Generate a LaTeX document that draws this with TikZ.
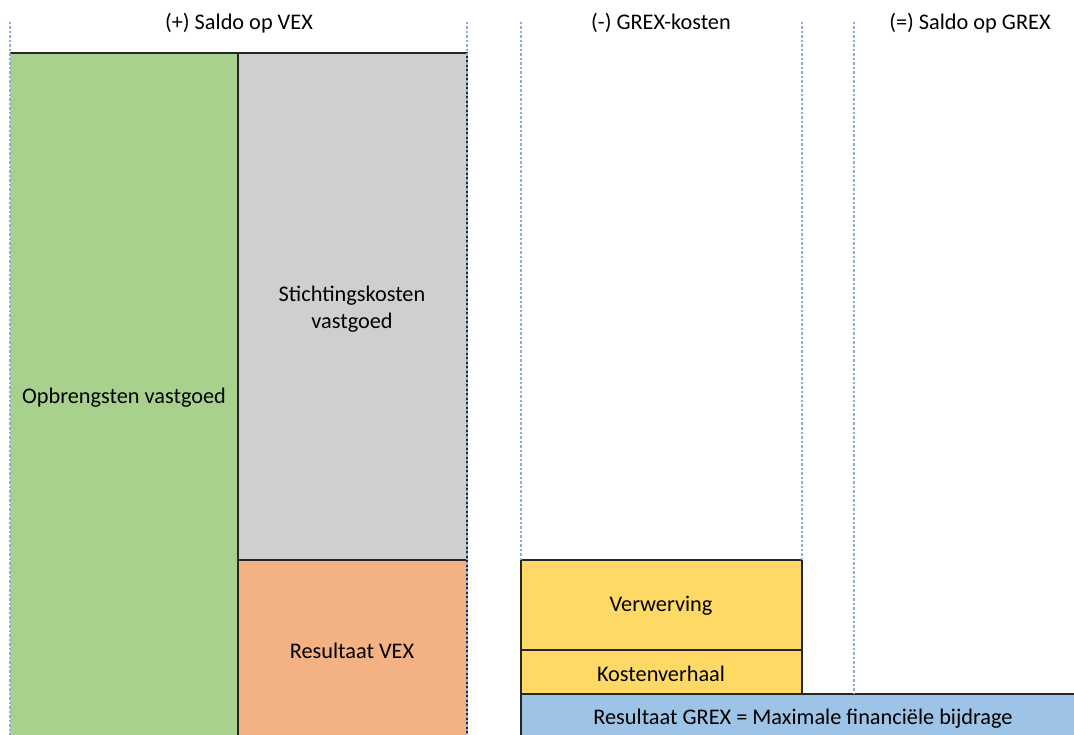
\documentclass[tikz,border=0pt]{standalone}
\usepackage{fontspec}
\setmainfont{Carlito}
\definecolor{cgreen}{HTML}{A9D18E}
\definecolor{cgrey}{HTML}{D0CECE}
\definecolor{corange}{HTML}{F4B183}
\definecolor{cyellow}{HTML}{FFD966}
\definecolor{cblue}{HTML}{9DC3E6}
\definecolor{cline}{HTML}{262626}
\definecolor{cdash}{HTML}{8FAADC}
\begin{document}
\begin{tikzpicture}[x=1pt,y=-1pt,
  blk/.style={draw=cline,line width=1.4pt},
  guide/.style={draw=cdash,line width=1.1pt,dash pattern=on 2.5pt off 2pt},
  lbl/.style={font=\fontsize{22.3}{27}\selectfont,align=center,text=black}]
\useasboundingbox (0,0) rectangle (1074,735);
% boxes
\fill[cgreen] (10,53) rectangle (238,736);
\draw[blk] (10,53) -- (238,53);
\fill[cgrey] (238,53) rectangle (467,560);
\draw[blk] (238,53) rectangle (467,560);
\fill[corange] (238,560) rectangle (467,736);
\draw[blk] (238,736) -- (238,560) -- (467,560) -- (467,736);
\fill[cyellow] (521,560) rectangle (802,694);
\draw[blk] (521,560) rectangle (802,650);
\draw[blk] (521,650) rectangle (802,694);
\fill[cblue] (521,694) rectangle (1074,736);
\draw[blk] (521,736) -- (521,694) -- (1075,694);
% guides
\coordinate (g1t) at (10,22); \coordinate (g1b) at (10,735);
\coordinate (g2t) at (467,22); \coordinate (g2b) at (467,735);
\coordinate (g3t) at (521,22); \coordinate (g3b) at (521,560);
\coordinate (g4t) at (802,22); \coordinate (g4b) at (802,560);
\coordinate (g5t) at (854,22); \coordinate (g5b) at (854,694);
\draw[guide] (g1t) -- (g1b);
\draw[guide] (g2t) -- (g2b);
\draw[guide] (g3t) -- (g3b);
\draw[guide] (g4t) -- (g4b);
\draw[guide] (g5t) -- (g5b);
% labels
\node[lbl] (h1) at (239,23) {(+) Saldo op VEX};
\node[lbl] (h2) at (661,23) {(-) GREX-kosten};
\node[lbl] (h3) at (970,23) {(=) Saldo op GREX};
\node[lbl] (opb) at (124,398) {Opbrengsten vastgoed};
\node[lbl] (sti) at (352,309) {Stichtingskosten\\vastgoed};
\node[lbl] (rvex) at (352,651) {Resultaat VEX};
\node[lbl] (verw) at (661,606) {Verwerving};
\node[lbl] (kost) at (661,674) {Kostenverhaal};
\node[lbl] (rgrex) at (803,719) {Resultaat GREX = Maximale financiële bijdrage};
\end{tikzpicture}
\end{document}
